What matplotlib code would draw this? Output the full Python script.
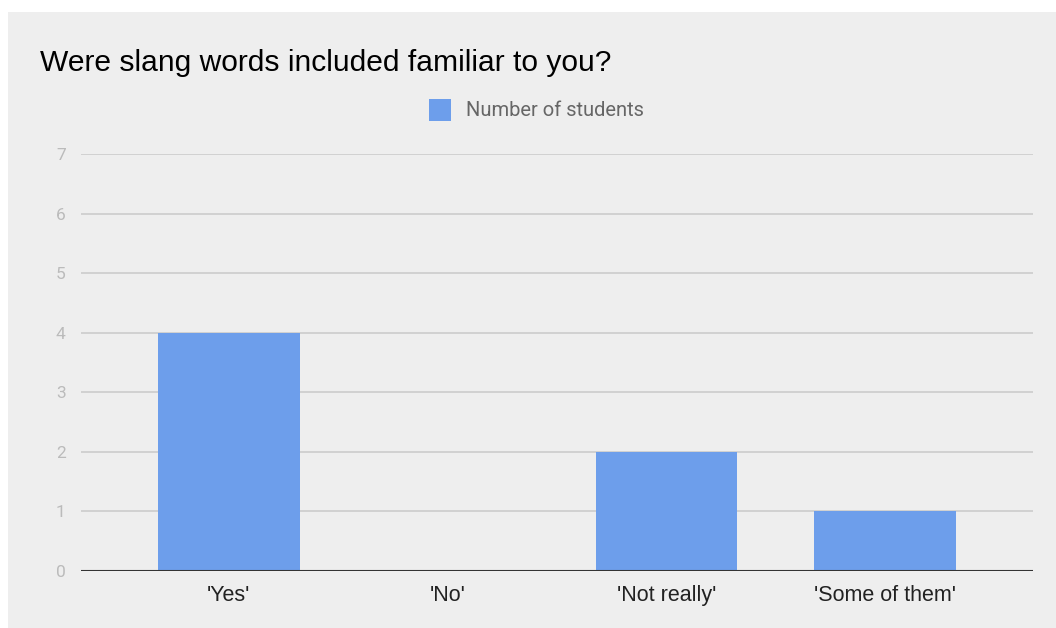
import matplotlib
matplotlib.use("Agg")
import matplotlib.pyplot as plt
from matplotlib.patches import Rectangle

categories = ["'Yes'", "'No'", "'Not really'", "'Some of them'"]
values = [4, 0, 2, 1]
yticks = [0, 1, 2, 3, 4, 5, 6, 7]
series_name = "Number of students"
title = "Were slang words included familiar to you?"

W, H = 1056, 628
fig = plt.figure(figsize=(W / 100, H / 100), dpi=100)
fig.patch.set_facecolor("white")
bg = Rectangle((8 / W, 0), 1, 1 - 12 / H, transform=fig.transFigure,
               facecolor="#eeeeee", edgecolor="none", zorder=-10)
fig.add_artist(bg)

ax = fig.add_axes([81 / W, 1 - 571 / H, (1033 - 81) / W, (571 - 154) / H])
ax.set_zorder(5)
ax.set_facecolor("none")
x = list(range(len(categories)))
ax.bar(x, values, width=0.648, color="#6d9eeb", zorder=3)
ax.set_xlim(-0.676, len(categories) - 1 + 0.676)
ax.set_ylim(0, 7)
ax.set_yticks(yticks)
ax.set_yticklabels([str(t) for t in yticks], fontsize=12.5, color="#bbbbbb", family="Roboto")
ax.set_xticks(x)
ax.set_xticklabels(categories, fontsize=15.5, color="#222222", family="Liberation Sans")
ax.tick_params(axis="both", length=0)
ax.tick_params(axis="y", pad=11)
ax.tick_params(axis="x", pad=10)
for t in yticks[1:]:
    ax.axhline(t, color="#cccccc", lw=1.2, zorder=1)
ax.axhline(0, color="#333333", lw=1.5, zorder=4)
for s in ax.spines.values():
    s.set_visible(False)

fig.text(40 / W, 1 - 63 / H, title, fontsize=21.6, color="#000000", family="Liberation Sans",
         va="center", ha="left", zorder=6)

# legend
fig.add_artist(Rectangle((429 / W, 1 - 121 / H), 22 / W, 22 / H, transform=fig.transFigure,
                         facecolor="#6d9eeb", edgecolor="none", zorder=6))
fig.text(466 / W, 1 - 111 / H, series_name, fontsize=14.5, color="#666666", family="Roboto",
         va="center", ha="left", zorder=6)

fig.savefig("out.png", dpi=100)
